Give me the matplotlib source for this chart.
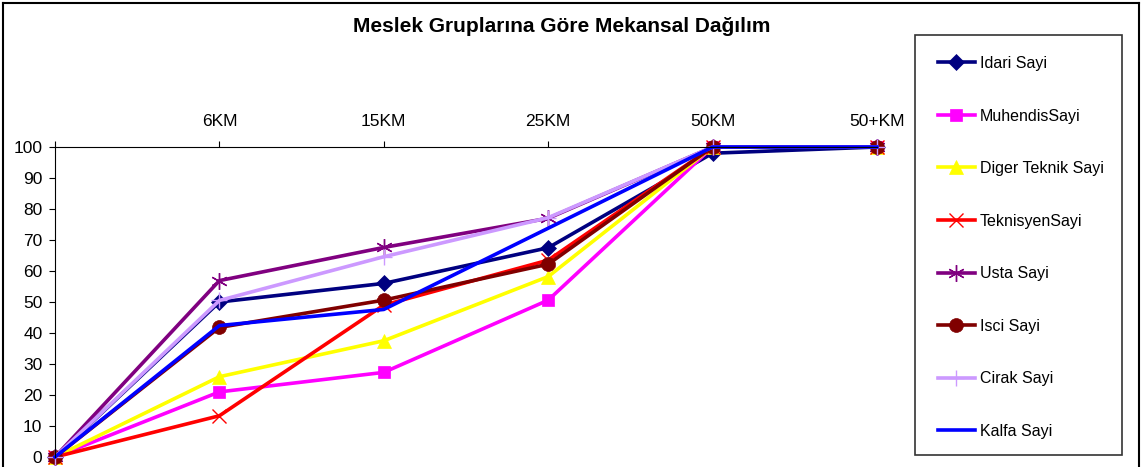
import numpy as np
import matplotlib.pyplot as plt
from matplotlib.lines import Line2D
from matplotlib.patches import Rectangle

plt.rcParams['font.family'] = ['Liberation Sans', 'DejaVu Sans']

mesafe = ["", "6KM", "15KM", "25KM", "50KM", "50+KM"]

idari = [0, 50, 56, 67.5, 98, 100]
muhendis = [0, 21, 27.3, 50.6, 100, 100]
diger_teknik = [0, 25.9, 37.5, 58.2, 100, 100]
teknisyen = [0, 13.3, 49, 63.5, 100, 100]
usta = [0, 56.9, 67.6, 77, 100, 100]
isci = [0, 41.8, 50.6, 62.2, 100, 100]
cirak = [0, 50.5, 64.6, 77.2, 100, 100]
kalfa = [0, 42.4, 47.6, 73.8, 100, 100]

seriler = [
    ("Idari Sayi", idari, "#000080", "D", 8),
    ("MuhendisSayi", muhendis, "#FF00FF", "s", 9),
    ("Diger Teknik Sayi", diger_teknik, "#FFFF00", "^", 10),
    ("TeknisyenSayi", teknisyen, "#FF0000", "x", 10),
    ("Usta Sayi", usta, "#800080", (6, 2, 0), 12),
    ("Isci Sayi", isci, "#800000", "o", 10),
    ("Cirak Sayi", cirak, "#CC99FF", "+", 12),
    ("Kalfa Sayi", kalfa, "#0000FF", None, 0),
]

W, H = 1142, 467
fig = plt.figure(figsize=(W/100, H/100), dpi=100)
ax = fig.add_axes([55/W, 10/H, 822/W, 310/H])

X = np.arange(len(mesafe))
for ad, Y, renk, isaret, boy in seriler:
    ince = isaret in ("x", "+", (6, 2, 0))
    ax.plot(X, Y, color=renk, lw=2.6, marker=isaret, markersize=boy,
            markerfacecolor=renk, markeredgecolor=renk,
            markeredgewidth=1.0 if ince else 0.5, label=ad, clip_on=False)

ax.set_xlim(0, 5)
ax.set_ylim(0, 100)
ax.set_yticks(range(0, 101, 10))
ax.set_xticks(X)
ax.set_xticklabels(mesafe)
ax.xaxis.tick_top()
ax.tick_params(axis="x", top=True, bottom=False, direction="out", length=4,
               pad=9, labelsize=12.5, colors="black")
ax.tick_params(axis="y", direction="out", length=4, pad=5, labelsize=12.5)
for s in ("right", "bottom"):
    ax.spines[s].set_visible(False)

fig.text(562/W, 1 - 26/H, "Meslek Gruplarına Göre Mekansal Dağılım",
         ha="center", va="center", fontsize=15, fontweight="bold")

# lejant cercevesi ayri ciziliyor
fig.add_artist(Rectangle((915/W, 1 - 455/H), 207/W, 420/H, fill=False,
                         edgecolor="#333333", lw=1.2))
leg = fig.legend(loc="upper left", bbox_to_anchor=(938/W, 1 - 56/H),
                 fontsize=11.5, frameon=False, labelspacing=2.35,
                 handlelength=2.3, handletextpad=0.3, borderpad=0,
                 borderaxespad=0)

# dis cerceve
for xs, ys in [((3, 3), (0, 464)), ((3, 1139), (464, 464)), ((1139, 1139), (0, 464))]:
    fig.add_artist(Line2D(np.array(xs)/W, np.array(ys)/H, color="black", lw=1.5))

plt.savefig("out.png", dpi=100)
